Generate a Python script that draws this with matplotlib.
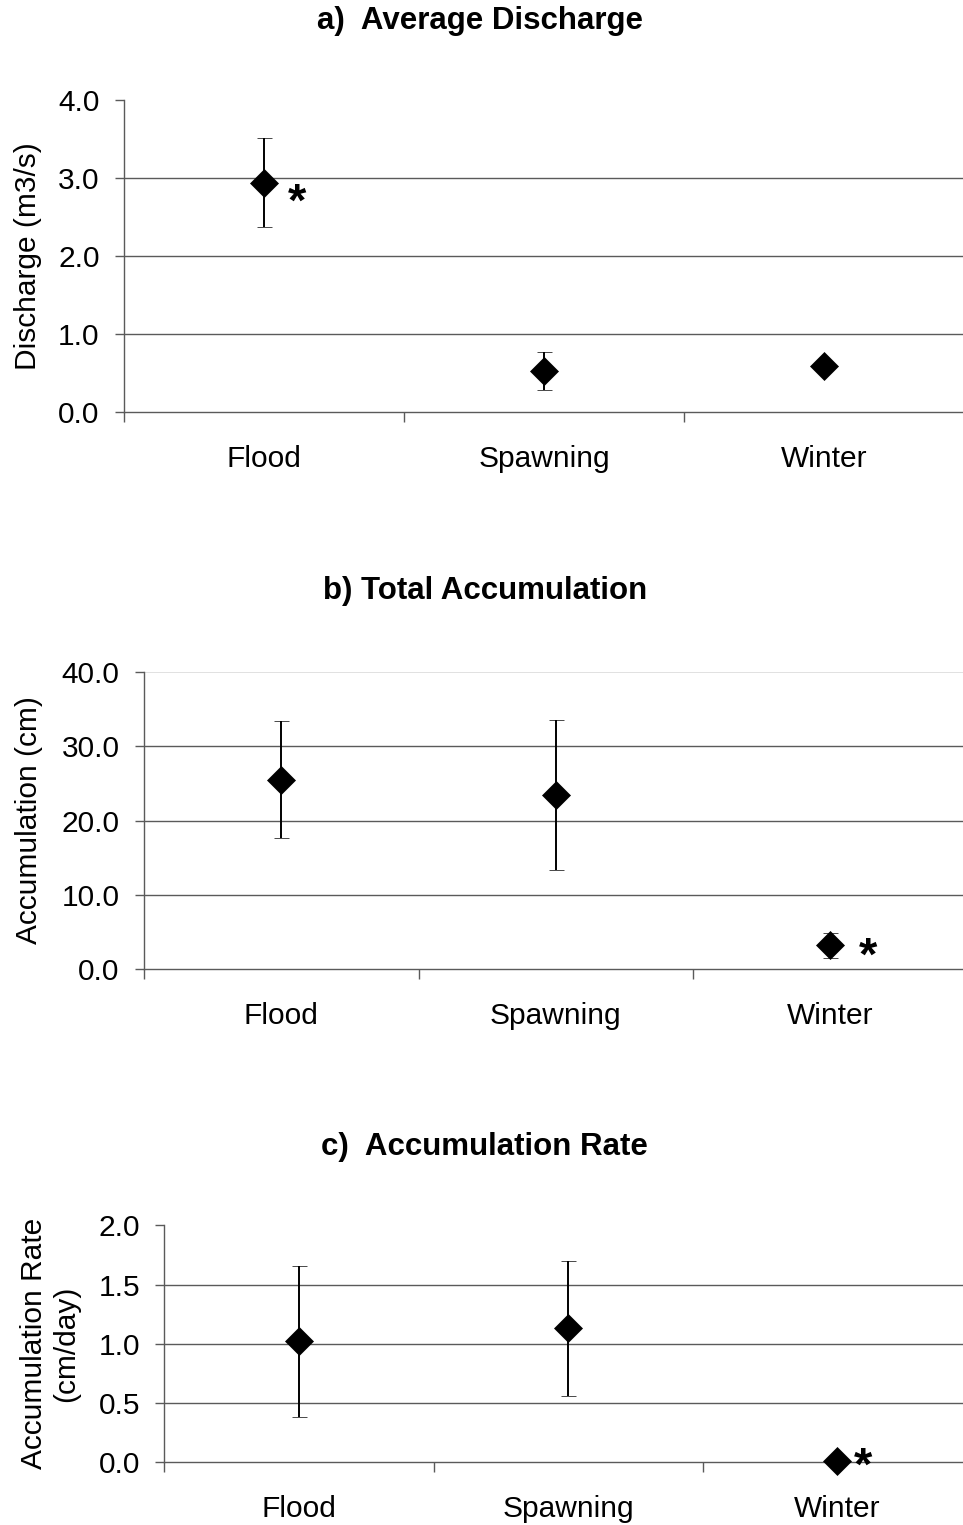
import matplotlib
matplotlib.use("Agg")
import matplotlib.pyplot as plt
from matplotlib.ticker import FixedLocator, FormatStrFormatter, NullFormatter, FixedFormatter

plt.rcParams['font.family'] = ['Liberation Sans', 'DejaVu Sans']

seasons = ["Flood", "Spawning", "Winter"]

discharge_mean = [2.94, 0.53, 0.59]
discharge_err = [0.57, 0.24, 0.04]

accum_mean = [25.5, 23.4, 3.2]
accum_err = [7.9, 10.1, 1.7]

rate_mean = [1.02, 1.13, 0.01]
rate_err = [0.64, 0.57, 0.01]

titles = ["a)  Average Discharge", "b) Total Accumulation", "c)  Accumulation Rate"]
ylabels = ["Discharge (m3/s)", "Accumulation (cm)", "Accumulation Rate\n(cm/day)"]
yticks_a = [0.0, 1.0, 2.0, 3.0, 4.0]
yticks_b = [0.0, 10.0, 20.0, 30.0, 40.0]
yticks_c = [0.0, 0.5, 1.0, 1.5, 2.0]
starred = [0, 2, 2]  # season flagged as significantly different in each panel

W, H = 963, 1525
fig = plt.figure(figsize=(W / 100, H / 100), dpi=100)


def px_rect(left, top, right, bottom):
    return [left / W, 1 - bottom / H, (right - left) / W, (bottom - top) / H]


panels = [
    dict(rect=px_rect(124, 100, 964, 412.3), mean=discharge_mean, err=discharge_err,
         yt=yticks_a, grid=[1.0, 2.0, 3.0], light=[], title_xy=(480, 29),
         ylab_x=28, star_off=(33, -33)),
    dict(rect=px_rect(144, 671.7, 967.5, 969.3), mean=accum_mean, err=accum_err,
         yt=yticks_b, grid=[10.0, 20.0, 30.0], light=[40.0], title_xy=(485, 599),
         ylab_x=29, star_off=(38, -24)),
    dict(rect=px_rect(164.3, 1225.3, 972, 1462.3), mean=rate_mean, err=rate_err,
         yt=yticks_c, grid=[0.5, 1.0, 1.5], light=[], title_xy=(484, 1155),
         ylab_x=50, star_off=(26, -19)),
]

grid_color = '#5a5a5a'
xpos = [0.5, 1.5, 2.5]
tick_fs = 21.5

for i, p in enumerate(panels):
    ax = fig.add_axes(p['rect'])
    ax.set_xlim(0, 3)
    ax.set_ylim(p['yt'][0], p['yt'][-1])

    for g in p['grid']:
        ax.axhline(g, color=grid_color, lw=1.0, zorder=1)
    for g in p['light']:
        ax.axhline(g, color='#dcdcdc', lw=1.2, zorder=1)

    eb = ax.errorbar(xpos, p['mean'], yerr=p['err'], fmt='D', color='black',
                     ms=14, mec='black', mew=0.5, ecolor='black', elinewidth=1.4,
                     capsize=5.4, capthick=1.4, zorder=3)
    for artist in eb.lines[0:1] + tuple(eb.lines[1]) + tuple(eb.lines[2]):
        artist.set_clip_on(False)

    for side in ('top', 'right'):
        ax.spines[side].set_visible(False)
    for side in ('left', 'bottom'):
        ax.spines[side].set_color(grid_color)
        ax.spines[side].set_linewidth(1.0)

    ax.yaxis.set_major_locator(FixedLocator(p['yt']))
    ax.yaxis.set_major_formatter(FormatStrFormatter('%.1f'))
    ax.tick_params(axis='y', direction='out', length=6.5, width=1.0,
                   color=grid_color, pad=11.0, labelsize=tick_fs)

    ax.xaxis.set_major_locator(FixedLocator([0, 1, 2, 3]))
    ax.xaxis.set_major_formatter(NullFormatter())
    ax.xaxis.set_minor_locator(FixedLocator(xpos))
    ax.xaxis.set_minor_formatter(FixedFormatter(seasons))
    ax.tick_params(axis='x', which='major', direction='out', length=7.2,
                   width=1.0, color=grid_color)
    ax.tick_params(axis='x', which='minor', length=0, pad=23.5, labelsize=tick_fs)

    s = starred[i]
    ax.annotate('*', xy=(xpos[s], p['mean'][s]), xytext=p['star_off'],
                textcoords='offset pixels', ha='center', va='baseline',
                fontsize=34, fontweight='bold', annotation_clip=False)

    tx, ty = p['title_xy']
    fig.text(tx / W, 1 - ty / H, titles[i], ha='center', va='baseline',
             fontsize=22.5, fontweight='bold')

    box = p['rect']
    fig.text(p['ylab_x'] / W, box[1] + box[3] / 2, ylabels[i], rotation=90,
             ha='center', va='center', fontsize=21.5, multialignment='center',
             linespacing=1.2)

fig.savefig('out.png', dpi=100)
